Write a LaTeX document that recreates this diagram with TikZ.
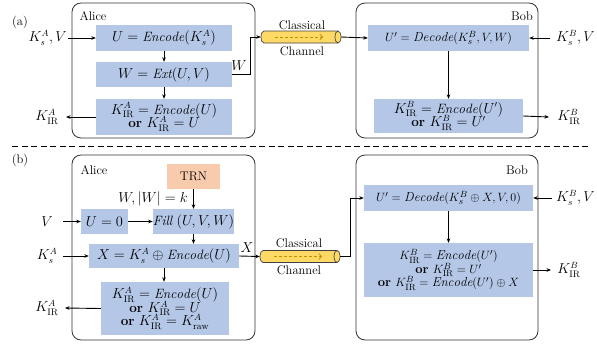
\documentclass[tikz,border=0pt]{standalone}
\usepackage{fontspec}
\usetikzlibrary{arrows.meta}

\definecolor{boxblue}{HTML}{B4C7E7}
\definecolor{trnfill}{HTML}{F8CBAD}
\definecolor{pipefill}{HTML}{FFD966}
\definecolor{pipeedge}{HTML}{404040}
\definecolor{flowdash}{HTML}{BF9000}
\definecolor{frameedge}{HTML}{333333}

% horizontal pipe: #1 node name, (#2,#3) centre of the body
\newcommand{\channelpipe}[3]{%
  \node[minimum width=80pt, minimum height=12pt, inner sep=0pt] (#1) at (#2,#3) {};
  \filldraw[fill=pipefill, draw=pipeedge, line width=0.7pt]
    ({#2+37},{#3-6}) -- ({#2-37},{#3-6}) arc (270:90:3 and 6) -- ({#2+37},{#3+6});
  \filldraw[fill=pipefill, draw=pipeedge, line width=0.7pt]
    ({#2+37},{#3}) ellipse (3 and 6);
  \draw[flow] ([xshift=-26pt]#1.center) -- ([xshift=22pt]#1.center);
}

\begin{document}
\begin{tikzpicture}[x=1pt,y=-1pt,
  font=\fontsize{12.5}{15}\selectfont,
  stepbox/.style={fill=boxblue, inner sep=0pt, align=center,
    font=\fontsize{13.5}{15.5}\selectfont},
  widebox/.style={stepbox, font=\fontsize{13}{15.5}\selectfont},
  partybox/.style={draw=frameedge, line width=0.8pt, rounded corners=9pt},
  link/.style={-{Stealth[length=4.5pt,width=3.6pt]}, line width=0.9pt},
  flow/.style={draw=flowdash, dash pattern=on 3pt off 2pt, line width=0.8pt,
    -{Straight Barb[length=2.5pt,width=5.5pt]}},
  tag/.style={inner sep=1pt, font=\fontsize{13.5}{15.5}\selectfont}
]
\useasboundingbox (0,0) rectangle (597,343);

% ---------------- (a) ----------------
\node (labela) at (20,22) {(a)};
\draw[partybox] (72,3) rectangle (255,138);
\draw[partybox] (356,3) rectangle (538,138);
\node (alicea) at (93,16) {Alice};
\node (boba) at (522,16) {Bob};

\node[stepbox, minimum width=136pt, minimum height=26pt] (aenc) at (164,38)
  {$U = \mathit{Encode}(K_s^A)$};
\node[stepbox, minimum width=136pt, minimum height=25pt] (aext) at (164,74.5)
  {$W = \mathit{Ext}(U, V)$};
\node[stepbox, minimum width=136pt, minimum height=36pt] (akir) at (164,117)
  {$K_{\mathrm{IR}}^A = \mathit{Encode}(U)$\\[-2pt] \textbf{or} $K_{\mathrm{IR}}^A = U$};

\coordinate (ain) at (68,38);
\node[tag, anchor=east] (ainlab) at (ain) {$K_s^A, V$};
\coordinate (aout) at (66,117);
\node[tag] (aoutlab) at (47,117) {$K_{\mathrm{IR}}^A$};

\channelpipe{apipe}{301}{37}
\node (aclass) at (302,25) {Classical};
\node (achan) at (302,51) {Channel};
\coordinate (abend) at (250,0);
\node[tag] (wlab) at (239,66) {$W$};

\node[widebox, minimum width=161pt, minimum height=26pt] (bdec) at (448.5,38)
  {$U' = \mathit{Decode}(K_s^B, V, W)$};
\node[stepbox, minimum width=149pt, minimum height=34pt] (bkir) at (448.5,116)
  {$K_{\mathrm{IR}}^B = \mathit{Encode}(U')$\\[-2pt] \textbf{or} $K_{\mathrm{IR}}^B = U'$};
\coordinate (bin) at (550,38);
\node[tag, anchor=west] (binlab) at (555,38) {$K_s^B, V$};
\coordinate (bout) at (549,117);
\node[tag] (boutlab) at (569,117) {$K_{\mathrm{IR}}^B$};

\draw[link] (ain) -- (aenc.west);
\draw[link] (aenc.south) -- (aext.north);
\draw[link] (aext.south) -- (akir.north);
\draw[link] (akir.west) -- (aout);
\draw[link] (aext.east) -- (aext.east -| abend) |- (apipe.west);
\draw[link] (apipe.east) -- (bdec.west);
\draw[link] (bin) -- (bdec.east);
\draw[link] (bdec.south) -- (bkir.north);
\draw[link] (bkir.east) -- (bout);

% separator
\coordinate (sepl) at (12,146);
\coordinate (sepr) at (590,146);
\draw[line width=0.8pt, dash pattern=on 6pt off 3.5pt] (sepl) -- (sepr);

% ---------------- (b) ----------------
\node (labelb) at (20,160) {(b)};
\draw[partybox] (72,155) rectangle (255,340);
\draw[partybox] (356,155) rectangle (538,340);
\node (aliceb) at (94,170) {Alice};
\node (bobb) at (517,170) {Bob};

\node[fill=trnfill, minimum width=53pt, minimum height=25pt, inner sep=0pt]
  (trn) at (193.5,176.5) {TRN};
\node[tag] (wk) at (153,199) {$W, |W| = k$};
\node[stepbox, minimum width=47pt, minimum height=25pt] (uzero) at (104.5,221.5)
  {$U = 0$};
\node[stepbox, minimum width=79pt, minimum height=25pt] (fill) at (193.5,221.5)
  {$\mathit{Fill}\ (U, V, W)$};
\node[stepbox, minimum width=150pt, minimum height=24pt] (xenc) at (164,256)
  {$X = K_s^A \oplus \mathit{Encode}(U)$};
\node[stepbox, minimum width=128pt, minimum height=53pt] (akirb) at (165,308.5)
  {$K_{\mathrm{IR}}^A = \mathit{Encode}(U)$\\[-2pt] \textbf{or} $K_{\mathrm{IR}}^A = U$\\[-2pt]
   \textbf{or} $K_{\mathrm{IR}}^A = K_{\mathrm{raw}}^A$};

\coordinate (vin) at (63,221.5);
\node[tag] (vlab) at (47,221.5) {$V$};
\coordinate (ksin) at (63,256);
\node[tag] (kslab) at (47,256) {$K_s^A$};
\coordinate (kout) at (65,308);
\node[tag] (koutlab) at (47,308) {$K_{\mathrm{IR}}^A$};

\channelpipe{bpipe}{300}{256.5}
\node (bclass) at (299,243) {Classical};
\node (bchan) at (299,270) {Channel};
\node[tag] (xlab) at (247,248) {$X$};
\coordinate (bbend) at (350,0);

\node[widebox, minimum width=169pt, minimum height=26pt] (bdecb) at (448.5,198)
  {$U' = \mathit{Decode}(K_s^B \oplus X, V, 0)$};
\node[widebox, minimum width=169pt, minimum height=54pt] (bkirb) at (448.5,270)
  {$K_{\mathrm{IR}}^B = \mathit{Encode}(U')$\\[-2pt] \textbf{or} $K_{\mathrm{IR}}^B = U'$\\[-2pt]
   \textbf{or} $K_{\mathrm{IR}}^B = \mathit{Encode}(U') \oplus X$};
\coordinate (bsin) at (552,198);
\node[tag, anchor=west] (bsinlab) at (555,198) {$K_s^B, V$};
\coordinate (bkout) at (551,270);
\node[tag] (bkoutlab) at (569,270) {$K_{\mathrm{IR}}^B$};

\draw[link] (trn.south) -- (fill.north);
\draw[link] (vin) -- (uzero.west);
\draw[link] (uzero.east) -- (fill.west);
\draw[link] (fill.south) -- (fill.south |- xenc.north);
\draw[link] (ksin) -- (xenc.west);
\draw[link] (xenc.south) -- (xenc.south |- akirb.north);
\draw[link] (akirb.west) -- (kout);
\draw[link] (xenc.east) -- (bpipe.west);
\draw[link] (bpipe.east) -- (bpipe.east -| bbend) |- (bdecb.west);
\draw[link] (bsin) -- (bdecb.east);
\draw[link] (bdecb.south) -- (bkirb.north);
\draw[link] (bkirb.east) -- (bkout);
\end{tikzpicture}
\end{document}
